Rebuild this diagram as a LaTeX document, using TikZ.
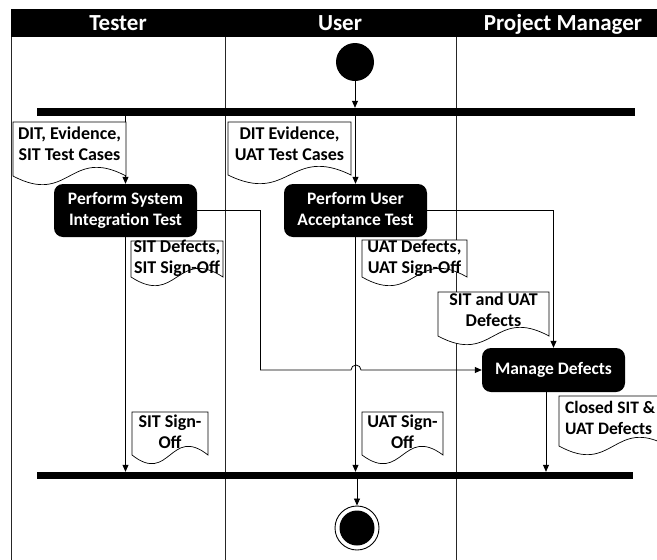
\documentclass[tikz,border=0pt]{standalone}
\usepackage{fontspec}
\setmainfont{Carlito}
\usetikzlibrary{arrows.meta,calc}
\newcommand\docshape[4]{%
  \draw[docline] (#1,#2) -- (#3,#2) -- (#3,#4)
    .. controls ({(#1+#3)/2},{#4-30}) and ({(#1+#3)/2},{#4+30}) .. (#1,#4) -- cycle;}
\begin{document}
\begin{tikzpicture}[x=1pt,y=-1pt,
  lane/.style={draw=black!85, line width=0.9pt},
  act/.style={fill=black, text=white, rounded corners=9pt,
    font=\fontsize{17.5}{21}\selectfont\bfseries, align=center, inner sep=0pt},
  doctext/.style={font=\fontsize{18}{21}\selectfont\bfseries, align=center,
    inner sep=0pt, anchor=base},
  docline/.style={draw=black, fill=white, line width=0.7pt},
  flow/.style={draw=black, line width=0.8pt, -{Triangle[length=7pt,width=6pt]}},
  link/.style={draw=black, line width=0.8pt},
  bar/.style={fill=black, draw=none, inner sep=0pt},
  hdr/.style={text=white, font=\fontsize{23}{26}\selectfont\bfseries, anchor=base, inner sep=0pt}
]
\useasboundingbox (0,0) rectangle (657,560);
\fill[white] (0,0) rectangle (657,560);

% header and lanes
\fill[black] (11,9) rectangle (670,37);
\node[hdr] (h1) at (118,30) {Tester};
\node[hdr] (h2) at (340,30) {User};
\node[hdr] (h3) at (563,30) {Project Manager};
\draw[lane] (11,37) -- (11,560);
\draw[lane] (225,37) -- (225,560);
\draw[lane] (456,37) -- (456,560);

% bars, start and end
\node[bar, minimum width=598, minimum height=8] (fork) at (336,112) {};
\node[bar, minimum width=596, minimum height=7] (join) at (335,475.5) {};
\node[circle, fill=black, minimum size=38, inner sep=0pt] (start) at (355,62) {};
\node[circle, draw=black, line width=0.9pt, fill=white, minimum size=44, inner sep=0pt] (endo) at (357,528) {};
\node[circle, fill=black, minimum size=35, inner sep=0pt] (endi) at (357,528) {};

% activities
\node[act, minimum width=143, minimum height=53] (psit) at (125.5,210.5) {Perform System\\Integration Test};
\node[act, minimum width=143, minimum height=53] (puat) at (355.5,210.5) {Perform User\\Acceptance Test};
\node[act, minimum width=143, minimum height=44] (md) at (553.5,370) {Manage Defects};

% connectors
\coordinate (j1) at (260,370);
\coordinate (hopL) at (351,370);
\draw[flow] (start) -- (start |- fork.north);
\draw[flow] (psit.north |- fork.south) -- (psit.north);
\draw[flow] (puat.north |- fork.south) -- (puat.north);
\draw[link] (psit.east) -| (j1);
\draw[flow] (j1) -- (hopL) arc[start angle=180, end angle=0, radius=5pt] -- (md.west);
\draw[flow] (puat.east) -| (md.north);
\draw[flow] (psit.south) -- (psit.south |- join.north);
\draw[flow] (puat.south) -- (puat.south |- join.north);
\draw[flow] ([xshift=-7.5pt]md.south) -- ([xshift=-7.5pt]md.south |- join.north);
\draw[flow] (endo |- join.south) -- (endo.north);

% documents
\docshape{13}{122}{126}{176}
\node[doctext] (d1) at (69.5,160) {DIT, Evidence,\\SIT Test Cases};
\docshape{228}{122}{351}{175}
\node[doctext] (d2) at (289.5,160) {DIT Evidence,\\UAT Test Cases};
\docshape{131}{241}{223}{277}
\node[doctext] (d3) at (177,273) {SIT Defects,\\SIT Sign-Off};
\docshape{362}{240}{467}{277}
\node[doctext] (d4) at (414.5,273) {UAT Defects,\\UAT Sign-Off};
\docshape{438}{292}{549}{336}
\node[doctext] (d5) at (493.5,326) {SIT and UAT\\Defects};
\docshape{132}{412}{208}{455}
\node[doctext] (d6) at (170,448) {SIT Sign-\\Off};
\docshape{362}{412}{443}{455}
\node[doctext] (d7) at (402.5,448) {UAT Sign-\\Off};
\docshape{559}{396}{668}{446}
\node[doctext, align=left, anchor=base west, font=\fontsize{17.5}{21}\selectfont\bfseries] (d8) at (565,434) {Closed SIT \&\\UAT Defects};
\end{tikzpicture}
\end{document}
